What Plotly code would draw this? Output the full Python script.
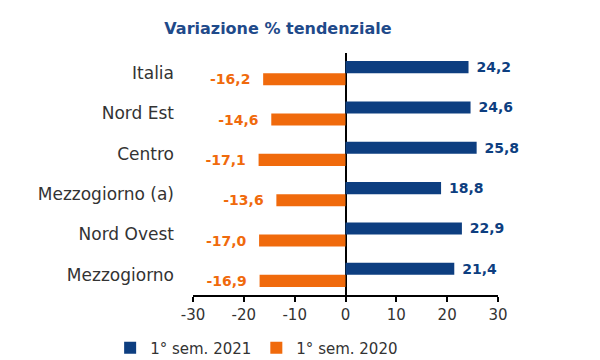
import plotly.graph_objects as go

categories = ["Italia", "Nord Est", "Centro", "Mezzogiorno (a)", "Nord Ovest", "Mezzogiorno"]
sem_2021 = [24.2, 24.6, 25.8, 18.8, 22.9, 21.4]
sem_2020 = [-16.2, -14.6, -17.1, -13.6, -17.0, -16.9]
x_ticks = [-30, -20, -10, 0, 10, 20, 30]
x_tick_labels = ["-30", "-20", "-10", "0", "10", "20", "30"]

BLUE = "#0D3E80"
ORANGE = "#F06A0C"
FONT = "DejaVu Sans"
NB = "\u00a0"

def fmt(v):
    return f"{v:.1f}".replace(".", ",")

fig = go.Figure()
fig.add_trace(go.Bar(
    y=categories, x=sem_2021, orientation="h", name="1° sem. 2021",
    marker=dict(color=BLUE, line=dict(width=0)),
    text=[NB + fmt(v) for v in sem_2021], textposition="outside",
    constraintext="none",
    textfont=dict(color=BLUE, size=14, family=FONT, weight="bold"),
    cliponaxis=False,
))
fig.add_trace(go.Bar(
    y=categories, x=sem_2020, orientation="h", name="1° sem. 2020",
    marker=dict(color=ORANGE, line=dict(width=0)),
    text=[fmt(v) + NB * 2 for v in sem_2020], textposition="outside",
    constraintext="none",
    textfont=dict(color=ORANGE, size=14, family=FONT, weight="bold"),
    cliponaxis=False,
))

# the page adds an 8px body margin, so the figure is sized 592x352
fig.update_layout(
    width=592, height=352,
    margin=dict(l=185, r=102, t=45, b=65, autoexpand=False),
    paper_bgcolor="white", plot_bgcolor="white",
    barmode="group", bargap=0.4, bargroupgap=0,
    font=dict(family=FONT, color="#333333", size=14),
    title=dict(text="<b>Variazione % tendenziale</b>", x=0.456, xanchor="center",
               y=0.943, yanchor="middle",
               font=dict(family=FONT, size=16, color="#1F4A8A")),
    showlegend=True,
    legend=dict(orientation="h", x=0.42, xref="container", xanchor="center",
                y=0.034, yref="container", yanchor="middle",
                font=dict(size=15, color="#333333"), itemwidth=30,
                traceorder="normal"),
)
fig.update_xaxes(
    range=[-30, 30], tickvals=x_ticks, ticktext=x_tick_labels,
    showgrid=False, showline=True, linecolor="black", linewidth=1.5,
    ticks="outside", ticklen=5, tickcolor="black", tickwidth=1.5,
    zeroline=True, zerolinecolor="black", zerolinewidth=1.5,
    tickfont=dict(size=15, color="#333333"),
)
fig.update_yaxes(
    autorange="reversed", showgrid=False, showline=False, ticks="",
    tickfont=dict(size=17, color="#333333"), ticklabelstandoff=18,
)

fig.write_html("out.html")
